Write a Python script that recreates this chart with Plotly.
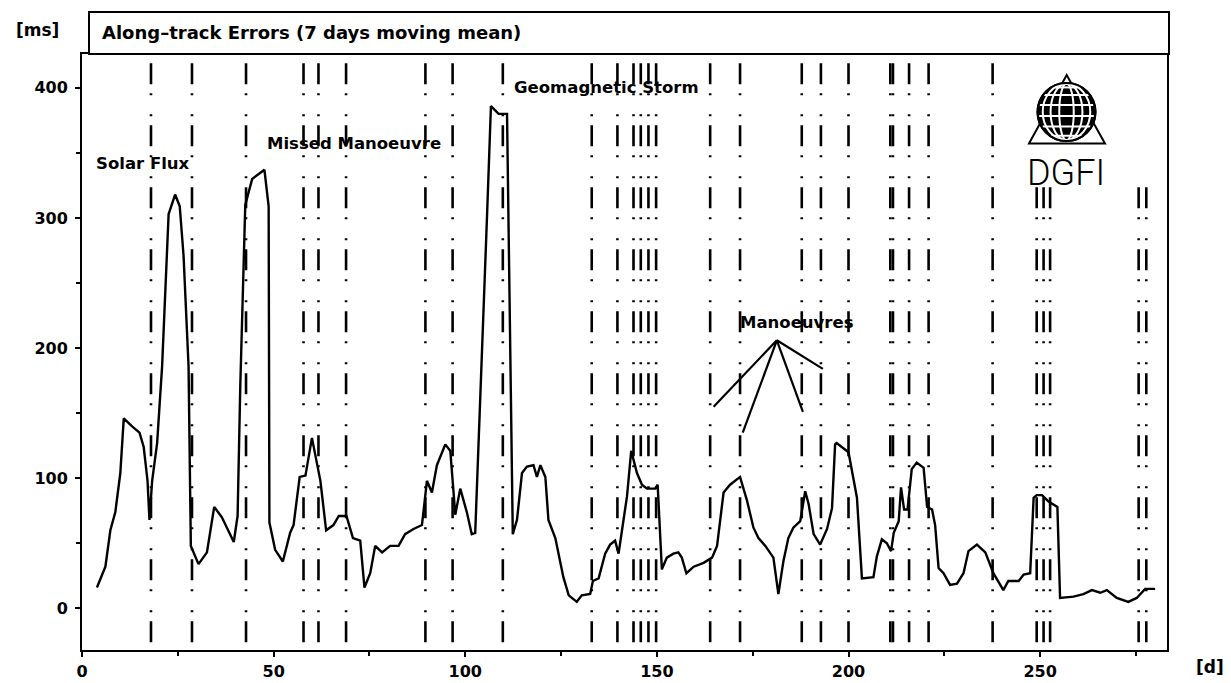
import math
import plotly.graph_objects as go

# ---------------- data ----------------
days = [3.9, 5.2, 6.1, 7.4, 8.7, 10, 10.9, 13, 15, 16.1, 17.1, 17.6, 18.3, 19.6, 20.9, 22.6, 24.3, 25.5,
        26.5, 27.8, 28.4, 30.4, 32.6, 34.5, 36.5, 39.6, 40.6, 41.3, 42.6, 44.4, 47.6, 48.7, 48.9, 50.4,
        52.4, 54.3, 55.2, 56.8, 58.3, 60, 62.2, 63.7, 65.6, 67, 69, 70.7, 72.6, 73.7, 75.2, 76.5, 78.3,
        80.4, 82.6, 84.3, 86.5, 88.7, 90, 91.3, 92.6, 94.8, 96.1, 97.4, 98.7, 100.4, 101.7, 102.6, 103.9,
        105.7, 106.7, 108.7, 110.9, 112.4, 113.5, 114.8, 116.1, 117.8, 118.7, 119.6, 120.9, 121.7, 123.5,
        125.6, 127, 129.1, 130.4, 132.6, 133.3, 134.8, 136.5, 137.8, 139.1, 140, 140.9, 142.2, 143.3,
        144.8, 146.1, 147.4, 149.6, 150.2, 151.3, 152.6, 154.3, 155.6, 156.5, 157.7, 159.6, 162.2, 164.4,
        165.7, 167.4, 169.1, 171.7, 173.5, 175.2, 176.5, 178.3, 180.4, 181.7, 183, 184.3, 185.6, 187.4,
        188.7, 189.6, 190.9, 192.6, 194.4, 195.7, 196.5, 196.9, 200, 202.2, 203.5, 206.5, 207.4, 208.7,
        210, 211.1, 211.8, 213.1, 213.7, 214.5, 215.4, 216.5, 217.8, 219.6, 220.5, 221.8, 222.6, 223.5,
        224.8, 226.5, 228.3, 230, 231.3, 233.5, 235.7, 237.8, 240.4, 241.7, 244.4, 245.7, 247.4, 248.3,
        249.1, 250.5, 252.2, 254.5, 255.2, 258.7, 261.3, 263.5, 265.7, 267.4, 270, 273, 275.2, 277.4, 280]
errors_ms = [16, 25, 32, 60, 74, 104, 146, 140, 135, 124, 98, 68, 98, 127, 186, 303, 318, 309,
             271, 186, 48, 34, 43, 78, 70, 51, 71, 171, 310, 330, 337, 309, 66, 45,
             36, 58, 64, 101, 102, 131, 98, 60, 64, 71, 71, 54, 52, 16, 27, 48, 43,
             48, 48, 57, 61, 64, 98, 89, 110, 126, 121, 72, 92, 74, 57, 58, 157,
             303, 386, 380, 380, 57, 68, 104, 109, 110, 101, 110, 101, 68, 54,
             24, 10, 5, 10, 11, 21, 23, 42, 49, 52, 42, 60, 86, 121,
             104, 95, 92, 92, 95, 30, 39, 42, 43, 39, 27, 32, 35, 39,
             48, 89, 95, 101, 83, 62, 54, 48, 39, 11, 36, 54, 62, 67,
             90, 80, 57, 49, 61, 77, 126, 127, 120, 85, 23, 24, 40, 53,
             50, 44, 58, 67, 93, 76, 76, 107, 112, 108, 78, 76, 64, 31,
             27, 18, 19, 27, 44, 49, 43, 27, 14, 21, 21, 26, 27, 85,
             87, 87, 82, 78, 8, 9, 11, 14, 12, 14, 8, 5, 8, 15, 15]

# event epochs (vertical dash-dot lines)
event_days = [18, 28.7, 42.8, 57.8, 61.7, 68.9, 89.6, 96.7, 109.8, 133, 139.7, 143.9, 145.8, 147.8,
              149.8, 163.9, 171.7, 187.8, 192.8, 200, 210.9, 211.6, 215.8, 220.9, 237.6, 249.1,
              250.9, 252.6, 275.7, 277.7]
event_short = [249.1, 250.9, 252.6, 275.7, 277.7]   # lines that stop below the logo

x_ticks = [0, 50, 100, 150, 200, 250]
y_ticks = [0, 100, 200, 300, 400]

labels = ["Solar Flux", "Missed Manoeuvre", "Geomagnetic Storm", "Manoeuvres"]
label_days = [3.0, 47.8, 112.2, 171.2]
label_vals = [342, 357, 400, 220]

manoeuvre_apex = (181.3, 206)
manoeuvre_targets_d = [164.8, 172.4, 188.1, 193.3]
manoeuvre_targets_v = [155, 135, 151, 184]

# ---------------- layout geometry ----------------
W, H = 1231, 683
ML, MR, MT, MB = 82, 64, 54, 33
XR = [0, 283.1]
YR = [-32, 426]
PW, PH = W - ML - MR, H - MT - MB


def px2x(px):
    return XR[0] + (px - ML) / PW * (XR[1] - XR[0])


def py2y(py):
    return YR[0] + (H - MB - py) / PH * (YR[1] - YR[0])


def pxp(px):
    return (px - ML) / PW


def pyp(py):
    return (H - MB - py) / PH


FONT = "DejaVu Sans"
fig = go.Figure()

dash_pat = "21px,9px,2px,19px,2px,9px"
for d in event_days:
    top = 325 if d in event_short else 419
    fig.add_trace(go.Scatter(x=[d, d], y=[-26, top], mode="lines",
                             line=dict(color="black", width=2.6, dash=dash_pat),
                             hoverinfo="skip", showlegend=False))

fig.add_trace(go.Scatter(x=days, y=errors_ms, mode="lines",
                         line=dict(color="black", width=2.4),
                         showlegend=False))

# Manoeuvre pointer lines
for td, tv in zip(manoeuvre_targets_d, manoeuvre_targets_v):
    fig.add_trace(go.Scatter(x=[manoeuvre_apex[0], td], y=[manoeuvre_apex[1], tv], mode="lines",
                             line=dict(color="black", width=2.2), hoverinfo="skip", showlegend=False))

shapes = []
# title box
shapes.append(dict(type="rect", xref="paper", yref="paper", x0=pxp(89), x1=pxp(1169),
                   y0=1.0, y1=pyp(12), line=dict(color="black", width=2), fillcolor="white"))
# DGFI logo: triangle
cx, cy, r = 1066.5, 112, 29
tri = "M {ax},{ay} L {bx},{by} L {cx2},{cy2} Z".format(
    ax=px2x(1066.7), ay=py2y(75), bx=px2x(1029), by=py2y(143.5), cx2=px2x(1105), cy2=py2y(143.5))
shapes.append(dict(type="path", xref="x", yref="y", path=tri, line=dict(color="black", width=2)))
# globe
shapes.append(dict(type="circle", xref="x", yref="y", x0=px2x(cx - r), x1=px2x(cx + r),
                   y0=py2y(cy + r), y1=py2y(cy - r), fillcolor="black", line=dict(color="black", width=2)))
for k in [0.25, 0.55, 0.82]:
    shapes.append(dict(type="circle", xref="x", yref="y", x0=px2x(cx - r * k), x1=px2x(cx + r * k),
                       y0=py2y(cy + r * 0.97), y1=py2y(cy - r * 0.97), line=dict(color="white", width=2)))
for lat in [-55, -30, -8, 14, 36, 58]:
    yy = cy - r * math.sin(math.radians(lat))
    hw = r * math.cos(math.radians(lat)) * 0.95
    shapes.append(dict(type="line", xref="x", yref="y", x0=px2x(cx - hw), x1=px2x(cx + hw),
                       y0=py2y(yy), y1=py2y(yy), line=dict(color="white", width=2)))
shapes.append(dict(type="circle", xref="x", yref="y", x0=px2x(cx - r), x1=px2x(cx + r),
                   y0=py2y(cy + r), y1=py2y(cy - r), line=dict(color="black", width=2)))

annotations = []
annotations.append(dict(xref="paper", yref="paper", x=pxp(100), y=pyp(33), xanchor="left", yanchor="middle",
                        text="Along\u2013track Errors (7 days moving mean)", showarrow=False,
                        font=dict(family=FONT, size=18, color="black", weight="bold")))
annotations.append(dict(xref="paper", yref="paper", x=pxp(38), y=pyp(30), xanchor="center", yanchor="middle",
                        text="[ms]", showarrow=False, font=dict(family=FONT, size=17, color="black",
                                                                 weight="bold")))
annotations.append(dict(xref="paper", yref="paper", x=pxp(1210), y=pyp(667), xanchor="center", yanchor="middle",
                        text="[d]", showarrow=False, font=dict(family=FONT, size=17, color="black",
                                                                weight="bold")))
for t, d, v in zip(labels, label_days, label_vals):
    annotations.append(dict(x=d, y=v, xanchor="left", yanchor="middle", text=t, showarrow=False,
                            font=dict(family=FONT, size=16.5, color="black", weight="bold")))
annotations.append(dict(x=px2x(1066), y=py2y(173), xanchor="center", yanchor="middle", text="DGFI",
                        showarrow=False, font=dict(family="Roboto", size=36, color="black", weight=300)))

axis_common = dict(showgrid=False, zeroline=False, showline=True, linecolor="black", linewidth=2,
                   mirror=True, ticks="outside", ticklen=5, tickwidth=2, tickcolor="black",
                   automargin=False,
                   tickfont=dict(family=FONT, size=16, color="black", weight="bold"))
fig.update_layout(
    width=W, height=H,
    margin=dict(l=ML, r=MR, t=MT, b=MB, autoexpand=False),
    paper_bgcolor="white", plot_bgcolor="white",
    xaxis=dict(range=XR, tickvals=x_ticks, ticklabelstandoff=1,
               minor=dict(dtick=25, ticks="outside", ticklen=4, tickwidth=2, tickcolor="black"),
               **axis_common),
    yaxis=dict(range=YR, tickvals=y_ticks, ticklabelstandoff=4,
               minor=dict(dtick=50, ticks="outside", ticklen=4, tickwidth=2, tickcolor="black"),
               **axis_common),
    shapes=shapes, annotations=annotations, showlegend=False,
)
fig.write_html("out.html")
